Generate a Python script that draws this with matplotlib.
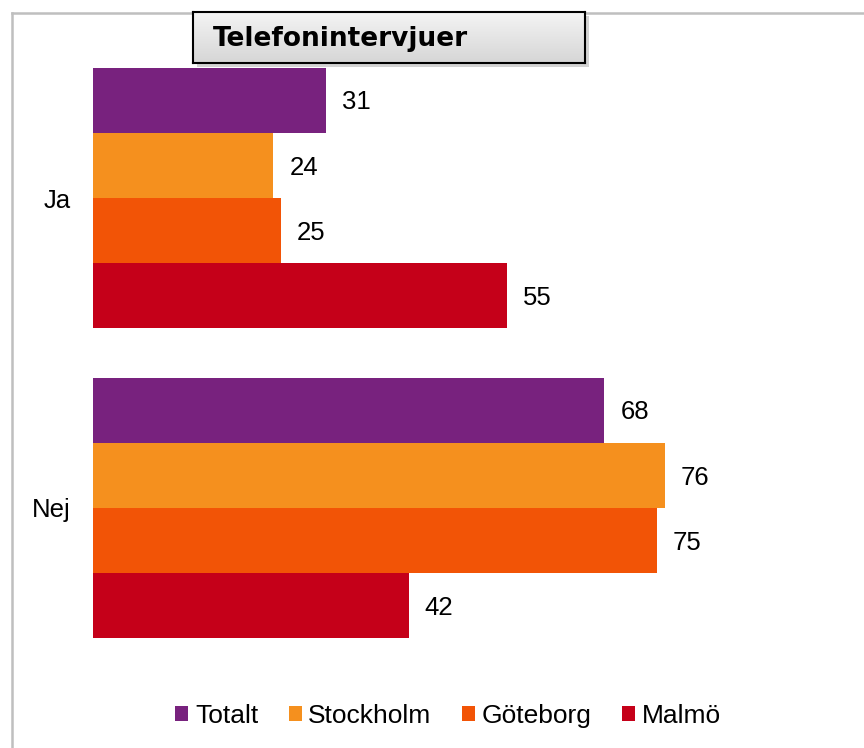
import numpy as np
import matplotlib
matplotlib.use("Agg")
import matplotlib.pyplot as plt
from matplotlib.patches import Rectangle, Patch
from matplotlib.lines import Line2D
from matplotlib.colors import LinearSegmentedColormap

categories = ["Ja", "Nej"]
series_names = ["Totalt", "Stockholm", "Göteborg", "Malmö"]
values = {
    "Totalt": [31, 68],
    "Stockholm": [24, 76],
    "Göteborg": [25, 75],
    "Malmö": [55, 42],
}
colors = {
    "Totalt": "#78227E",
    "Stockholm": "#F5901E",
    "Göteborg": "#F25406",
    "Malmö": "#C50019",
}
title = "Telefonintervjuer"

plt.rcParams['font.family'] = ['Liberation Sans', 'DejaVu Sans']

W, H = 864, 748
fig = plt.figure(figsize=(W / 100, H / 100), dpi=100)

def fx(px):
    return px / W

def fy(py):
    return 1 - py / H

# figure border (top and left lines visible)
fig.add_artist(Line2D([fx(12), 1.0], [fy(13), fy(13)], color="#BFBFBF", lw=1.8, transform=fig.transFigure))
fig.add_artist(Line2D([fx(12), fx(12)], [fy(13), 0.0], color="#BFBFBF", lw=1.8, transform=fig.transFigure))

ax = fig.add_axes([fx(93), fy(663), fx(845) - fx(93), (663 - 43) / H])
h = 0.21
pos = np.arange(len(categories))
for i, name in enumerate(series_names):
    y = pos + (i - 1.5) * h
    ax.barh(y, values[name], height=h, color=colors[name], edgecolor="none")
    for yy, v in zip(y, values[name]):
        ax.annotate(str(v), (v, yy), xytext=(11.5, -1.5), textcoords="offset points",
                    ha="left", va="center", fontsize=18.5, color="black")

ax.set_xlim(0, 100)
ax.set_ylim(1.5, -0.5)
ax.set_yticks(pos)
ax.set_yticklabels(categories, fontsize=18.5)
ax.tick_params(axis="y", length=0, pad=16)
ax.set_xticks([])
for s in ax.spines.values():
    s.set_visible(False)
ax.patch.set_alpha(0)

# title box with shadow and gradient
bx0, by0, bx1, by1 = 193, 12, 585, 63
shadow = Rectangle((fx(bx0 + 4), fy(by1 + 4)), fx(bx1) - fx(bx0), (by1 - by0) / H,
                   transform=fig.transFigure, facecolor="#A8A8A8", edgecolor="none", alpha=0.5, zorder=5)
fig.add_artist(shadow)
tax = fig.add_axes([fx(bx0), fy(by1), fx(bx1) - fx(bx0), (by1 - by0) / H], zorder=6)
grad = np.linspace(0, 1, 100).reshape(-1, 1)
cmap = LinearSegmentedColormap.from_list("g", ["#F4F4F4", "#D6D6D6"])
tax.imshow(grad, aspect="auto", cmap=cmap, extent=[0, 1, 0, 1], origin="upper")
tax.set_xticks([])
tax.set_yticks([])
for s in tax.spines.values():
    s.set_linewidth(1.5)
    s.set_color("black")
tax.text(20 / (bx1 - bx0), 0.48, title, transform=tax.transAxes, ha="left", va="center",
         fontsize=19, fontweight="bold", family="DejaVu Sans", color="black")

handles = [Patch(facecolor=colors[n], edgecolor="none") for n in series_names]
fig.legend(handles, series_names, loc="center", bbox_to_anchor=(fx(448), fy(716)), ncol=4,
           frameon=False, fontsize=19, handlelength=0.5, handleheight=0.5,
           handletextpad=0.25, columnspacing=1.15, borderaxespad=0)

fig.savefig("out.png", dpi=100)
